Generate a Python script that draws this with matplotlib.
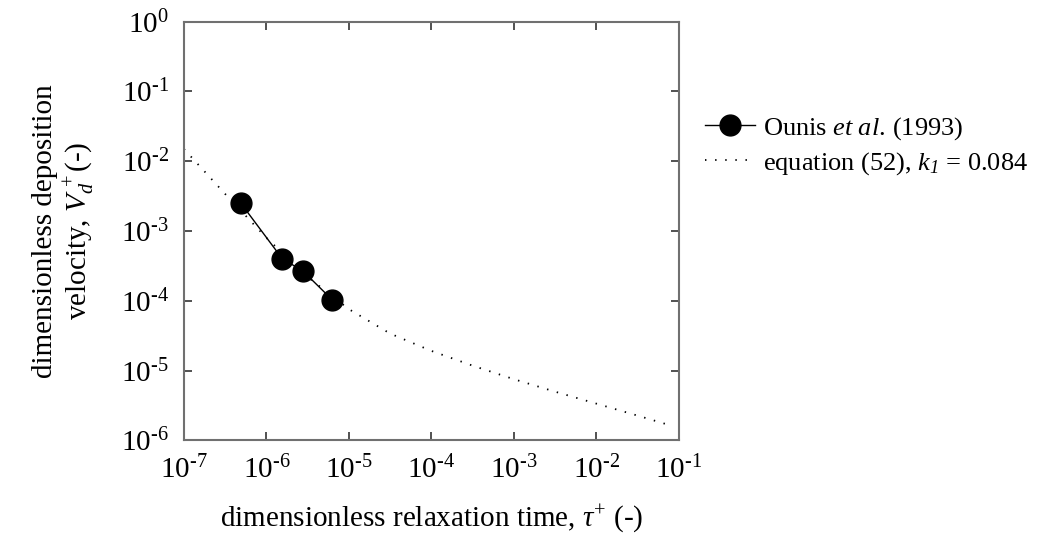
import math
import matplotlib
matplotlib.use("Agg")
import matplotlib.pyplot as plt
from matplotlib.ticker import FixedLocator, FuncFormatter, NullLocator

# ---- data ----
ounis_tau = [4.9e-7, 1.56e-6, 2.75e-6, 6.3e-6]
ounis_vd = [2.5e-3, 4.0e-4, 2.7e-4, 1.03e-4]

eq_tau = [1.0e-7, 3.16e-7, 1.0e-6, 3.16e-6, 1.0e-5, 3.16e-5, 1.0e-4,
          3.16e-4, 1.0e-3, 3.16e-3, 1.0e-2, 3.16e-2, 8.1e-2]
eq_vd = [1.5e-2, 3.4e-3, 8.0e-4, 2.2e-4, 7.6e-5, 3.4e-5, 1.92e-5,
         1.18e-5, 7.55e-6, 5.0e-6, 3.37e-6, 2.27e-6, 1.63e-6]

x_ticks = [1e-7, 1e-6, 1e-5, 1e-4, 1e-3, 1e-2, 1e-1]
y_ticks = [1e-6, 1e-5, 1e-4, 1e-3, 1e-2, 1e-1, 1e0]

label_ounis = r"Ounis $\mathit{et\ al.}\,$(1993)"
label_eq = r"equation (52), $\mathit{k}_{\mathsf{1}}$ = 0.084"
xlabel = r"dimensionless relaxation time, $\mathit{\tau}^{+}$ (-)"
ylabel = "dimensionless deposition\n" + r"velocity, $\mathit{V}_{\mathit{d}}^{\,+}$(-)"

# ---- style ----
plt.rcParams['font.family'] = ['Liberation Serif', 'DejaVu Serif']
plt.rcParams['mathtext.fontset'] = 'custom'
plt.rcParams['mathtext.rm'] = 'Liberation Serif'
plt.rcParams['mathtext.it'] = 'Liberation Serif:italic'
plt.rcParams['mathtext.bf'] = 'Liberation Serif:bold'
plt.rcParams['mathtext.sf'] = 'Liberation Serif:italic'

FS = 21
HYPH = "\u2010"
fig = plt.figure(figsize=(10.37, 5.48), dpi=100)
ax = fig.add_axes([0.1774, 0.1962, 0.4773, 0.7642])

ax.plot(eq_tau, eq_vd, color='black', linewidth=1.3,
        linestyle=(0, (0.8, 4.8)), label=label_eq, zorder=2)
ax.plot(ounis_tau, ounis_vd, color='black', linewidth=1.0, marker='o',
        markersize=15, label=label_ounis, zorder=3)

ax.set_xscale('log')
ax.set_yscale('log')
ax.set_xlim(1e-7, 1e-1)
ax.set_ylim(1e-6, 1e0)


def fmt(v, pos):
    e = int(round(math.log10(v)))
    if e < 0:
        return "10$^{\\mathregular{" + HYPH + str(-e) + "}}$"
    return "10$^{\\mathregular{" + str(e) + "}}$"


ax.xaxis.set_major_locator(FixedLocator(x_ticks))
ax.yaxis.set_major_locator(FixedLocator(y_ticks))
ax.xaxis.set_minor_locator(NullLocator())
ax.yaxis.set_minor_locator(NullLocator())
ax.xaxis.set_major_formatter(FuncFormatter(fmt))
ax.yaxis.set_major_formatter(FuncFormatter(fmt))

ax.tick_params(which='major', direction='in', length=6, width=1.2,
               top=True, right=True, labelsize=FS, pad=11, color='#333333')
for s in ax.spines.values():
    s.set_color('#707070')
    s.set_linewidth(1.5)

ax.set_xlabel(xlabel, fontsize=FS, labelpad=13)
ax.set_ylabel(ylabel, fontsize=FS, labelpad=18, linespacing=1.1)

handles, labels = ax.get_legend_handles_labels()
leg = ax.legend(handles[::-1], labels[::-1], loc='upper left',
                bbox_to_anchor=(705 / 1037, 1 - 115 / 548),
                bbox_transform=fig.transFigure, frameon=False,
                fontsize=19, handlelength=1.9, handletextpad=0.3,
                borderpad=0, borderaxespad=0, labelspacing=0.3)

fig.savefig('out.png', dpi=100)
